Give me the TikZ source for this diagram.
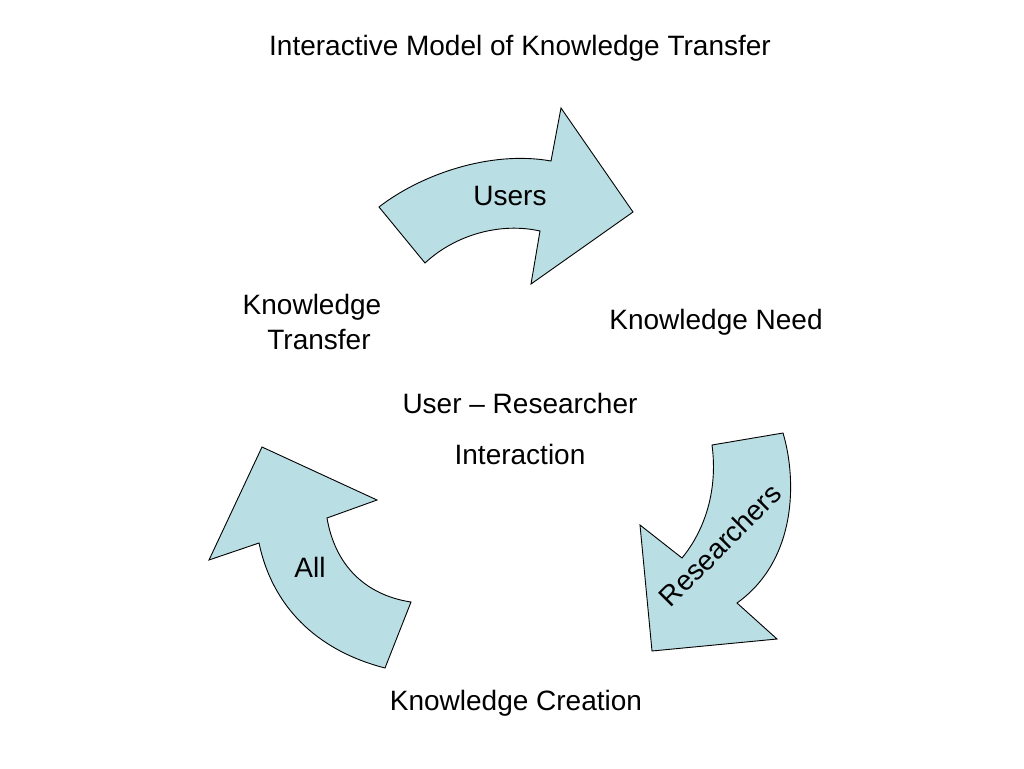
\documentclass[tikz,border=0pt]{standalone}
\usepackage{fontspec}
\setmainfont{Liberation Sans}
\definecolor{arrowfill}{RGB}{185,222,228}
\tikzset{
  bigarrow/.style={draw=black, fill=arrowfill, line width=0.9pt, line join=miter},
  lbl/.style={inner sep=0pt, font=\fontsize{28}{35}\selectfont, align=center}
}
\begin{document}
\begin{tikzpicture}[x=1pt,y=-1pt]
\useasboundingbox (0,0) rectangle (1024,768);
% top arrow (Users)
\draw[bigarrow] (379,207) .. controls (420,175) and (490,150) .. (551,161)
  -- (561,108) -- (633,212) -- (531,284) -- (540,231)
  .. controls (500,222) and (455,235) .. (425,263) -- cycle;
% right arrow (Researchers)
\draw[bigarrow] (712,445) -- (783,433)
  .. controls (797,480) and (797,560) .. (737,603)
  -- (777,639) -- (652,651) -- (640,525) -- (682,558)
  .. controls (705,530) and (718,490) .. (712,445) -- cycle;
% left arrow (All)
\draw[bigarrow] (262,447) -- (377,500) -- (327,518)
  .. controls (335,565) and (365,595) .. (411,602)
  -- (385,668)
  .. controls (315,650) and (272,605) .. (259,543)
  -- (209,560) -- cycle;
% texts
\node[lbl] (title) at (520,48) {Interactive Model of Knowledge Transfer};
\node[lbl] (users) at (510,196) {Users};
\node[lbl, align=center] (ktransfer) at (312,322) {Knowledge\\ \hphantom{x}Transfer};
\node[lbl] (kneed) at (716,322) {Knowledge Need};
\node[lbl] (urinter) at (520,403) {User -- Researcher};
\node[lbl] (inter) at (520,454) {Interaction};
\node[lbl, rotate=45] (researchers) at (720,545) {Researchers};
\node[lbl] (all) at (310,567) {All};
\node[lbl] (kcreate) at (516,703) {Knowledge Creation};
\end{tikzpicture}
\end{document}
